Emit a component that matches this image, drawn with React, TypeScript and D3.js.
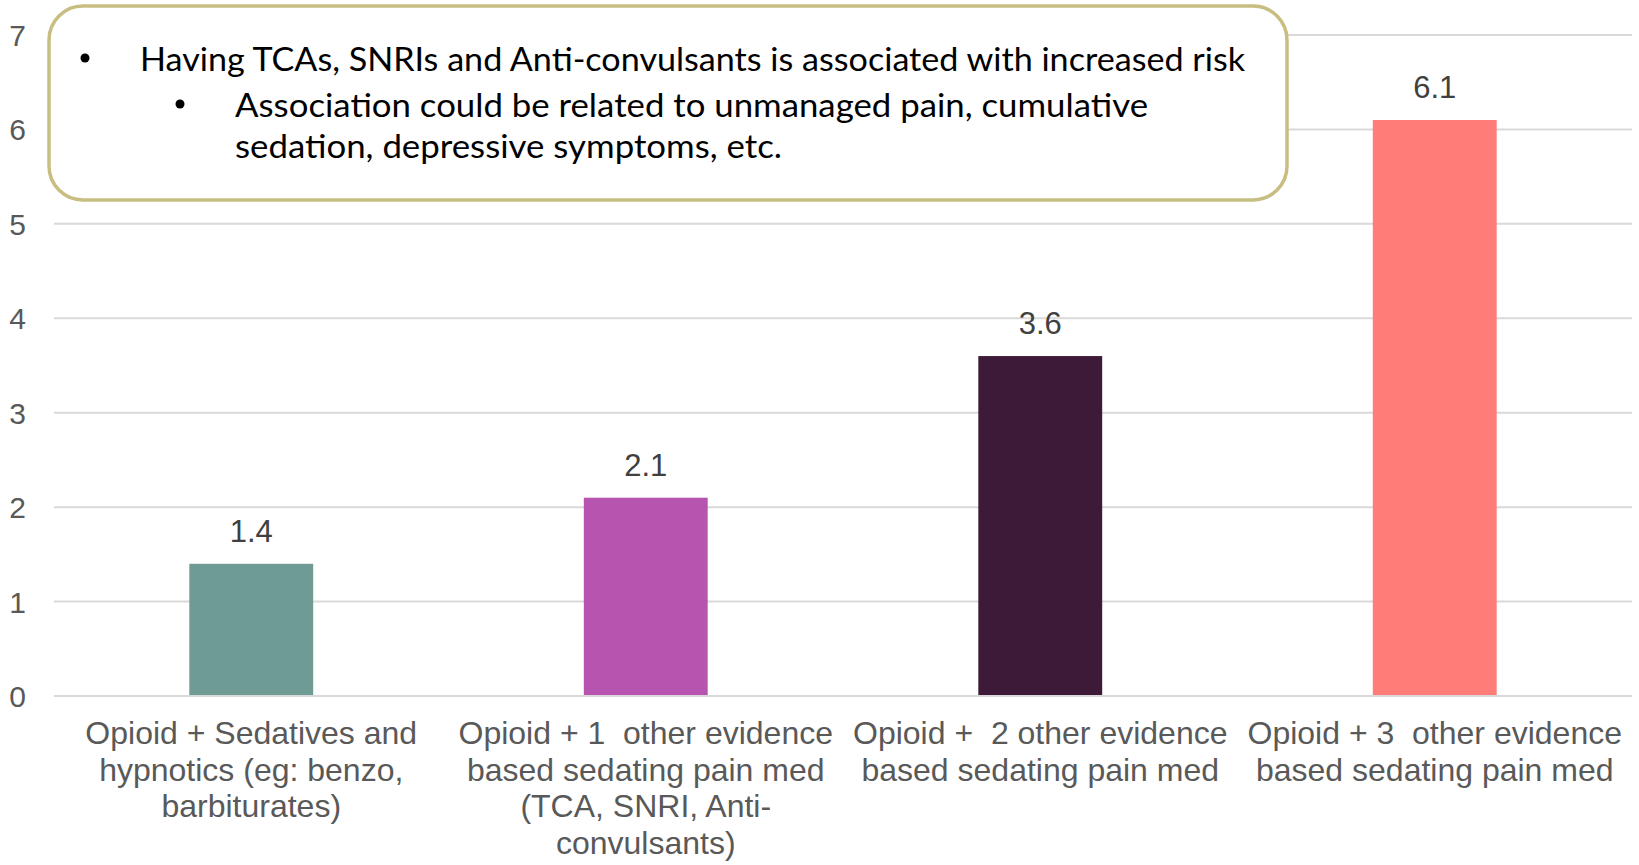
import React, { useEffect, useRef } from "react";
import * as d3 from "d3";

const categories = ["cat1", "cat2", "cat3", "cat4"];
const categoryLines = [
  ["Opioid + Sedatives and", "hypnotics (eg: benzo,", "barbiturates)"],
  ["Opioid + 1  other evidence", "based sedating pain med", "(TCA, SNRI, Anti-", "convulsants)"],
  ["Opioid +  2 other evidence", "based sedating pain med"],
  ["Opioid + 3  other evidence", "based sedating pain med"],
];
const values = [1.4, 2.1, 3.6, 6.1];
const barColors = ["#6E9C95", "#B654B0", "#3C1A38", "#FF7C79"];
const yTicks = [0, 1, 2, 3, 4, 5, 6, 7];

const noteLines = [
  { text: "Having TCAs, SNRIs and Anti-convulsants is associated with increased risk", level: 0 },
  { text: "Association could be related to unmanaged pain, cumulative", level: 1 },
  { text: "sedation, depressive symptoms, etc.", level: 2 },
];

function createChart(el: SVGSVGElement) {
  const svg = d3.select(el);
  svg.selectAll("*").remove();

  const width = 1639,
    height = 865;
  const margin = { top: 35, right: 7, bottom: 169, left: 54 };

  const x = d3
    .scaleBand()
    .domain(categories)
    .range([margin.left, width - margin.right])
    .paddingInner(0.686)
    .paddingOuter(0.343);

  const y = d3
    .scaleLinear()
    .domain([0, 7])
    .range([height - margin.bottom, margin.top]);

  // gridlines
  svg
    .append("g")
    .selectAll("line")
    .data(yTicks)
    .join("line")
    .attr("x1", margin.left)
    .attr("x2", width - margin.right)
    .attr("y1", (d) => y(d))
    .attr("y2", (d) => y(d))
    .attr("stroke", "#D9D9D9")
    .attr("stroke-width", 2);

  // y tick labels
  svg
    .append("g")
    .selectAll("text")
    .data(yTicks)
    .join("text")
    .attr("x", 26)
    .attr("y", (d) => y(d) + 11)
    .attr("text-anchor", "end")
    .attr("font-family", "Liberation Sans, Arial, sans-serif")
    .attr("font-size", 30)
    .attr("fill", "#595959")
    .text((d) => d);

  // bars
  svg
    .append("g")
    .selectAll("rect")
    .data(values)
    .join("rect")
    .attr("x", (_d, i) => x(categories[i])!)
    .attr("width", x.bandwidth())
    .attr("y", (d) => y(d))
    .attr("height", (d) => y(0) - y(d) - 1)
    .attr("fill", (_d, i) => barColors[i]);

  // value labels
  svg
    .append("g")
    .selectAll("text")
    .data(values)
    .join("text")
    .attr("x", (_d, i) => x(categories[i])! + x.bandwidth() / 2)
    .attr("y", (d) => y(d) - 22)
    .attr("text-anchor", "middle")
    .attr("font-family", "Liberation Sans, Arial, sans-serif")
    .attr("font-size", 31)
    .attr("fill", "#404040")
    .text((d) => d.toFixed(1));

  // category labels
  categoryLines.forEach((lines, i) => {
    const cx = x(categories[i])! + x.bandwidth() / 2;
    const t = svg
      .append("text")
      .attr("text-anchor", "middle")
      .attr("font-family", "Liberation Sans, Arial, sans-serif")
      .attr("font-size", 32)
      .attr("fill", "#595959")
      .style("white-space", "pre");
    lines.forEach((line, j) => {
      t.append("tspan")
        .attr("x", cx)
        .attr("y", 744 + j * 36.5)
        .text(line);
    });
  });

  // note box
  const box = svg.append("g");
  box
    .append("rect")
    .attr("x", 49)
    .attr("y", 6)
    .attr("width", 1238)
    .attr("height", 194)
    .attr("rx", 34)
    .attr("ry", 34)
    .attr("fill", "#FFFFFF")
    .attr("stroke", "#C8BE82")
    .attr("stroke-width", 3.5);

  const lineY = [71, 117, 158];
  const lineLen = [1105, 913, 547];
  noteLines.forEach((l, i) => {
    const tx = l.level === 0 ? 140 : 235;
    if (l.level < 2) {
      box
        .append("circle")
        .attr("cx", l.level === 0 ? 85 : 180)
        .attr("cy", lineY[i] - 13)
        .attr("r", 4.5)
        .attr("fill", "#000");
    }
    box
      .append("text")
      .attr("x", tx)
      .attr("y", lineY[i])
      .attr("font-family", "Lato, 'Open Sans', sans-serif")
      .attr("font-size", 33)
      .attr("fill", "#000")
      .attr("textLength", lineLen[i])
      .attr("lengthAdjust", "spacingAndGlyphs")
      .text(l.text);
  });
}

export default function App() {
  const ref = useRef<SVGSVGElement>(null);
  useEffect(() => {
    if (ref.current) createChart(ref.current);
  }, []);
  return (
    <div>
      <style>{`body{margin:0;background:#fff}`}</style>
      <svg ref={ref} width={1639} height={865} style={{ display: "block" }} />
    </div>
  );
}
